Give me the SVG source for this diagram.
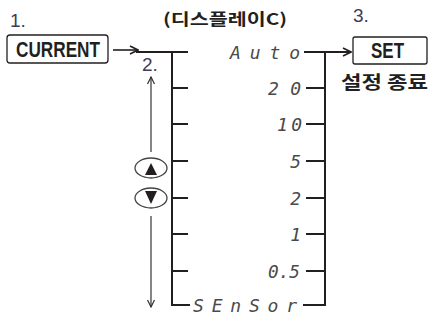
<svg xmlns="http://www.w3.org/2000/svg" width="429" height="322" viewBox="0 0 429 322">
<style>
.num{font-family:"Liberation Sans",Arial,sans-serif;font-size:19px;fill:#3f3a58;}
.key{font-family:"Liberation Sans",Arial,sans-serif;font-weight:bold;font-size:22px;fill:#231f20;}
.kr{font-family:"Noto Sans CJK KR",sans-serif;font-weight:bold;fill:#231f20;}
.seg{font-family:"DejaVu Sans Mono",monospace;font-style:oblique;font-size:18px;fill:#4a4a4a;}
.box{fill:#fff;stroke:#231f20;stroke-width:1.3;}
.br{fill:none;stroke:#231f20;stroke-width:2;}
.thin{fill:none;stroke:#333;stroke-width:1.2;}
.btn{fill:#fff;stroke:#444;stroke-width:1.3;}
</style>
<defs>
<marker id="ah" markerWidth="10" markerHeight="10" refX="9" refY="5" orient="auto" markerUnits="userSpaceOnUse">
<path d="M1,1 L9,5 L1,9" fill="none" stroke="#231f20" stroke-width="1.6"/>
</marker>
<marker id="ahs" markerWidth="10" markerHeight="10" refX="9" refY="5" orient="auto" markerUnits="userSpaceOnUse">
<path d="M2,1.5 L9,5 L2,8.5" fill="none" stroke="#333" stroke-width="1.2"/>
</marker>
</defs>

<text class="kr" x="163" y="25" font-size="16" textLength="124" lengthAdjust="spacingAndGlyphs">(디스플레이C)</text>

<g id="step1">
<text class="num" x="10" y="27">1.</text>
</g>
<g id="current">
<rect class="box" x="7" y="35" width="101" height="28" rx="3"/>
<text class="key" x="16" y="57" textLength="84" lengthAdjust="spacingAndGlyphs">CURRENT</text>
</g>
<g id="step2">
<text class="num" x="142" y="71">2.</text>
</g>
<g id="step3">
<text class="num" x="353" y="22">3.</text>
</g>
<g id="set">
<rect class="box" x="353" y="37" width="74" height="27" rx="2"/>
<text class="key" x="371" y="58" textLength="33" lengthAdjust="spacingAndGlyphs">SET</text>
<text class="kr" x="341" y="89" font-size="18" textLength="87" lengthAdjust="spacingAndGlyphs">설정 종료</text>
</g>

<g id="buttons">
<ellipse class="btn" cx="151" cy="168" rx="16" ry="10"/>
<path d="M151,163 L145,175 L157,175 Z" fill="#231f20"/>
<ellipse class="btn" cx="151" cy="198" rx="16" ry="10"/>
<path d="M145,191 L157,191 L151,204 Z" fill="#231f20"/>
</g>

<g id="display">
<text class="seg" x="230" y="59" textLength="70" lengthAdjust="spacing">Auto</text>
<text class="seg" x="268" y="95" textLength="33" lengthAdjust="spacing">20</text>
<text class="seg" x="277" y="131" textLength="25" lengthAdjust="spacing">10</text>
<text class="seg" x="301" y="168" text-anchor="end">5</text>
<text class="seg" x="301" y="205" text-anchor="end">2</text>
<text class="seg" x="301" y="241" text-anchor="end">1</text>
<text class="seg" x="268" y="278" textLength="32" lengthAdjust="spacingAndGlyphs">0.5</text>
<text class="seg" x="193" y="312" textLength="104" lengthAdjust="spacing">SEnSor</text>
</g>

<g id="connectors">
<line x1="113" y1="50" x2="138" y2="50" stroke="#231f20" stroke-width="1.6" marker-end="url(#ah)"/>
<path class="br" d="M136,52 H188 M172,51 V305 H190 M172,88 H188 M172,124 H188 M172,161 H188 M172,198 H188 M172,234 H188 M172,271 H188"/>
<path class="br" d="M325,52 V305 H303 M306,88 H325 M306,124 H325 M306,161 H325 M306,198 H325 M306,234 H325 M306,271 H325"/>
<line x1="304" y1="52" x2="351" y2="52" stroke="#231f20" stroke-width="2" marker-end="url(#ah)"/>
<line class="thin" x1="151" y1="152" x2="151" y2="77" marker-end="url(#ahs)"/>
<line class="thin" x1="151" y1="216" x2="151" y2="307" marker-end="url(#ahs)"/>
</g>
</svg>
